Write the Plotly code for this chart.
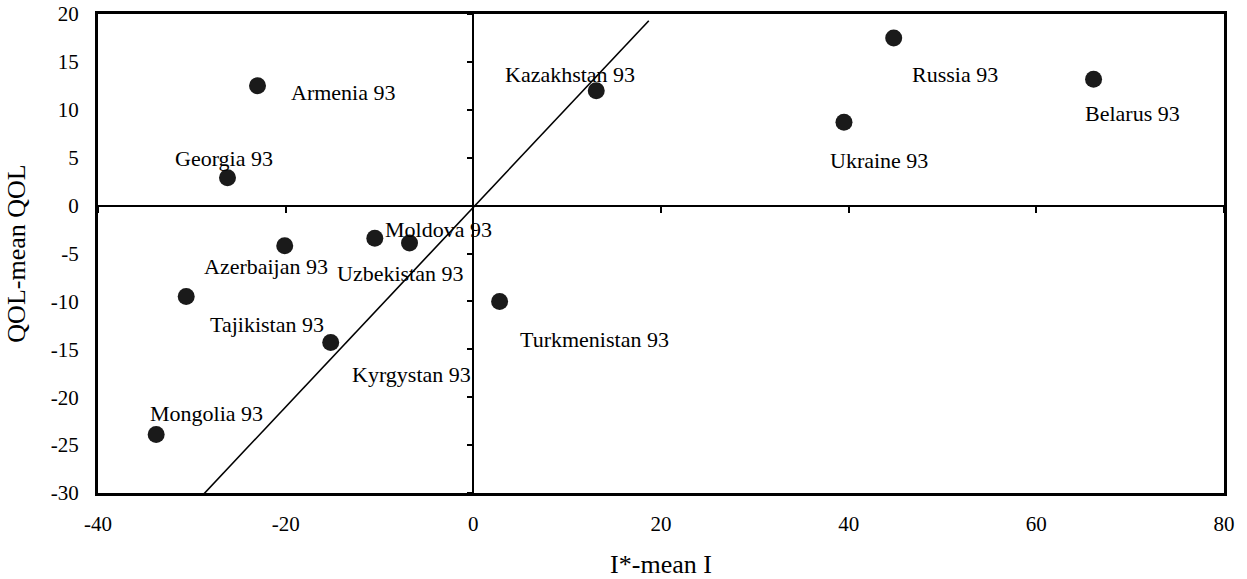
import plotly.graph_objects as go

# ---- data ----
labels = ["Armenia 93", "Georgia 93", "Azerbaijan 93", "Moldova 93", "Uzbekistan 93",
          "Tajikistan 93", "Kyrgystan 93", "Mongolia 93", "Kazakhstan 93",
          "Ukraine 93", "Russia 93", "Belarus 93", "Turkmenistan 93"]
x_vals = [-23.0, -26.2, -20.1, -10.5, -6.8, -30.6, -15.2, -33.8, 13.1, 39.5, 44.8, 66.1, 2.8]
y_vals = [12.5, 2.9, -4.2, -3.4, -3.9, -9.5, -14.3, -23.9, 12.0, 8.7, 17.5, 13.2, -10.0]

# label offsets from the marker (pixels, styling only)
label_dx = [85, -3, -19, 64, -10, 81, 81, 50, -26, 35, 61, 39, 95]
label_dy = [-7, 19, -21, 9, -31, -28, -32, 21, 16, -38, -37, -34, -38]

line_x = [-29.3, 18.7]
line_y = [-30.7, 19.3]

x_ticks = [-40, -20, 0, 20, 40, 60, 80]
y_ticks = [-30, -25, -20, -15, -10, -5, 0, 5, 10, 15, 20]

FONT = "Liberation Serif"

fig = go.Figure()
fig.add_trace(go.Scatter(x=line_x, y=line_y, mode="lines",
                         line=dict(color="black", width=1.6),
                         hoverinfo="skip", showlegend=False))
fig.add_trace(go.Scatter(x=x_vals, y=y_vals, mode="markers",
                         marker=dict(size=17, color="#1a1a1a"),
                         text=labels, showlegend=False, cliponaxis=False))
# invisible trace to host the tick overlay axes
fig.add_trace(go.Scatter(x=[None], y=[None], xaxis="x2", yaxis="y2",
                         mode="markers", showlegend=False, hoverinfo="skip"))

for lab, xv, yv, dx, dy in zip(labels, x_vals, y_vals, label_dx, label_dy):
    fig.add_annotation(x=xv, y=yv, text=lab, showarrow=False,
                       xshift=dx, yshift=dy,
                       font=dict(family=FONT, size=22, color="black"))

fig.update_layout(
    width=1247, height=579,
    margin=dict(l=98, r=23, t=14, b=86),
    paper_bgcolor="white", plot_bgcolor="white",
    font=dict(family=FONT, size=21, color="black"),
    xaxis=dict(range=[-40, 80], tickvals=x_ticks,
               ticktext=[str(v) for v in x_ticks], showgrid=False,
               showline=True, mirror=True, linewidth=3, linecolor="black",
               ticks="outside", ticklen=10, tickcolor="rgba(0,0,0,0)",
               zeroline=True, zerolinecolor="black", zerolinewidth=1.6,
               tickfont=dict(family=FONT, size=21), automargin=False,
               ticklabeloverflow="allow",
               title=dict(text="I*-mean I", font=dict(family=FONT, size=26), standoff=26)),
    yaxis=dict(range=[-30, 20], tickvals=y_ticks,
               ticktext=[str(v) for v in y_ticks], showgrid=False,
               showline=True, mirror=True, linewidth=3, linecolor="black",
               ticks="outside", ticklen=12, tickcolor="rgba(0,0,0,0)",
               zeroline=True, zerolinecolor="black", zerolinewidth=2,
               tickfont=dict(family=FONT, size=21), automargin=False,
               ticklabeloverflow="allow",
               title=dict(text="QOL-mean QOL", font=dict(family=FONT, size=26), standoff=18)),
    xaxis2=dict(range=[-40, 80], tickvals=x_ticks, overlaying="x",
                anchor="free", position=0.6, side="bottom",
                showgrid=False, showline=False, zeroline=False,
                ticks="outside", ticklen=6, tickwidth=2, tickcolor="black",
                showticklabels=False, automargin=False),
    yaxis2=dict(range=[-30, 20], tickvals=y_ticks, overlaying="y",
                anchor="free", position=1/3, side="left",
                showgrid=False, showline=False, zeroline=False,
                ticks="outside", ticklen=6, tickwidth=2, tickcolor="black",
                showticklabels=False, automargin=False),
)

fig.write_html("out.html", config={"displayModeBar": False},
               post_script="document.body.style.margin='0';")
